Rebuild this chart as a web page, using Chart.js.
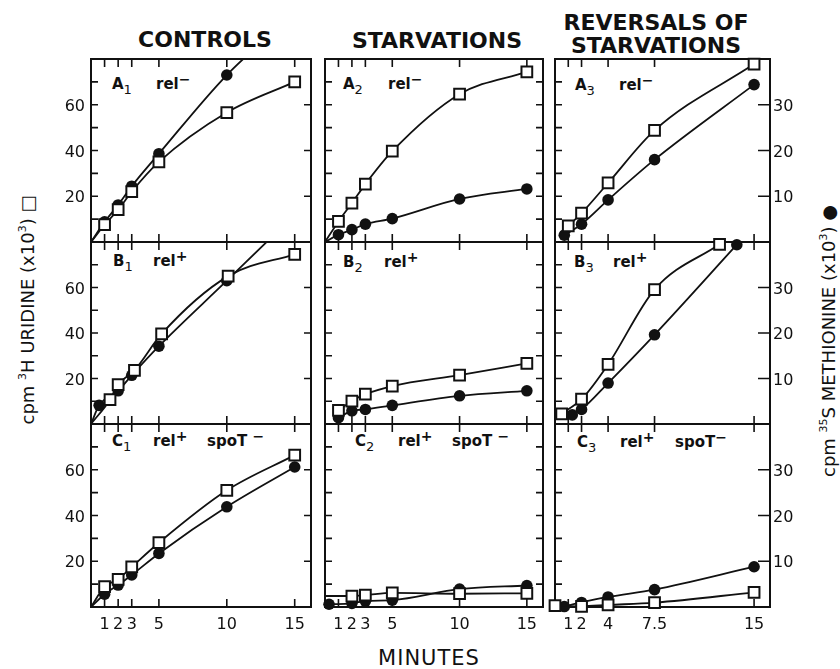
<!DOCTYPE html>
<html>
<head>
<meta charset="utf-8">
<script src="https://cdn.jsdelivr.net/npm/chart.js@4.4.1/dist/chart.umd.min.js"></script>
<style>
  body { margin: 0; background: #fff; }
  #fig { position: relative; width: 840px; height: 669px; overflow: hidden; font-family: "DejaVu Sans", sans-serif; color: #111; }
  .panel { position: absolute; }
  .ctitle { position: absolute; font-weight: bold; font-size: 22px; line-height: 22px; text-align: center; white-space: nowrap; }
  .plab { position: absolute; font-weight: bold; font-size: 15px; line-height: 15px; white-space: nowrap; }
  .plab sub { font-size: 13px; font-weight: normal; vertical-align: -5px; line-height: 0; }
  .plab sup { font-size: 14px; vertical-align: 5px; line-height: 0; }
  .ytitle { position: absolute; font-size: 18px; line-height: 18px; white-space: nowrap; transform: translate(-50%, -50%) rotate(-90deg); }
  .ytitle sup { font-size: 11px; vertical-align: 8px; line-height: 0; }
  #minutes { position: absolute; left: 329px; width: 200px; top: 648px; font-size: 21px; line-height: 21px; text-align: center; letter-spacing: 1px; }
</style>
</head>
<body>
<div id="fig">
  <div class="ctitle" style="left:105px;width:200px;top:29px">CONTROLS</div>
  <div class="ctitle" style="left:337px;width:200px;top:30px">STARVATIONS</div>
  <div class="ctitle" style="left:556px;width:200px;top:12px">REVERSALS OF</div>
  <div class="ctitle" style="left:556px;width:200px;top:35px">STARVATIONS</div>

  <div class="ytitle" style="left:28px;top:310px">cpm <sup>3</sup>H URIDINE (x10<sup>3</sup>) □</div>
  <div class="ytitle" style="left:829px;top:341px">cpm <sup>35</sup>S METHIONINE (x10<sup>3</sup>) ●</div>
  <div id="minutes">MINUTES</div>

  <div class="plab" style="left:112px;top:77px">A<sub>1</sub></div>
  <div class="plab" style="left:156px;top:77px">rel<sup>−</sup></div>
  <div class="plab" style="left:343px;top:77px">A<sub>2</sub></div>
  <div class="plab" style="left:388px;top:77px">rel<sup>−</sup></div>
  <div class="plab" style="left:575px;top:78px">A<sub>3</sub></div>
  <div class="plab" style="left:619px;top:78px">rel<sup>−</sup></div>

  <div class="plab" style="left:113px;top:254px">B<sub>1</sub></div>
  <div class="plab" style="left:153px;top:254px">rel<sup>+</sup></div>
  <div class="plab" style="left:343px;top:255px">B<sub>2</sub></div>
  <div class="plab" style="left:384px;top:255px">rel<sup>+</sup></div>
  <div class="plab" style="left:574px;top:255px">B<sub>3</sub></div>
  <div class="plab" style="left:613px;top:255px">rel<sup>+</sup></div>

  <div class="plab" style="left:112px;top:434px">C<sub>1</sub></div>
  <div class="plab" style="left:153px;top:434px">rel<sup>+</sup></div>
  <div class="plab" style="left:207px;top:434px">spoT <sup>−</sup></div>
  <div class="plab" style="left:355px;top:434px">C<sub>2</sub></div>
  <div class="plab" style="left:398px;top:434px">rel<sup>+</sup></div>
  <div class="plab" style="left:452px;top:434px">spoT <sup>−</sup></div>
  <div class="plab" style="left:577px;top:435px">C<sub>3</sub></div>
  <div class="plab" style="left:620px;top:435px">rel<sup>+</sup></div>
  <div class="plab" style="left:675px;top:435px">spoT<sup>−</sup></div>
</div>

<script>
// minutes and tick labels
const minutes = [0, 1, 2, 3, 5, 10, 15];
const xTicksMain = [1, 2, 3, 5, 10, 15];
const xTicksRev = [1, 2, 4, 7.5, 15];
const uridineLabels = [20, 40, 60];
const methionineLabels = [10, 20, 30];

// cpm 3H uridine (x10^3) = squares, cpm 35S methionine (x10^3) = circles
// A1 controls rel-
const a1Uridine = [0, 7.6, 14.1, 22, 35, 56.6, 70];
const a1Methionine = [0, 4.4, 8.1, 12.2, 19.3, 36.5, 50];
// A2 starvation rel-
const a2Uridine = [0, 9, 17, 25.3, 39.7, 64.6, 74.4];
const a2Methionine = [0, 1.6, 2.7, 3.9, 5.1, 9.4, 11.6];
// A3 reversal rel-
const a3UridineMin = [1, 2, 4, 7.5, 15];
const a3Uridine = [7, 12.6, 25.8, 48.8, 77.8];
const a3MethionineMin = [0.7, 2, 4, 7.5, 15];
const a3Methionine = [1.5, 3.9, 9.2, 18, 34.4];
// B1 controls rel+
const b1UridineMin = [0, 1.4, 2, 3.2, 5.2, 10.1, 15];
const b1Uridine = [0, 10.7, 17.3, 23.6, 39.6, 65, 74.6];
const b1MethionineMin = [0, 0.6, 2, 3, 5, 10, 15];
const b1Methionine = [0, 4.1, 7.3, 10.7, 17.1, 31.5, 46];
// B2 starvation rel+
const b2Min = [1, 2, 3, 5, 10, 15];
const b2Uridine = [6, 10.1, 13.1, 16.7, 21.5, 26.6];
const b2Methionine = [1.4, 2.9, 3.2, 4.1, 6.2, 7.3];
// B3 reversal rel+
const b3UridineMin = [0.5, 2, 4, 7.5, 12.4];
const b3Uridine = [4.5, 10.9, 26.2, 59.1, 79];
const b3MethionineMin = [1.3, 2, 4, 7.5, 13.7];
const b3Methionine = [2, 3.2, 9, 19.6, 39.4];
// C1 controls rel+ spoT-
const c1Uridine = [0, 8.9, 12.1, 17.5, 28.1, 51, 66.4];
const c1Methionine = [0, 2.8, 4.8, 7, 11.7, 21.9, 30.6];
// C2 starvation rel+ spoT-
const c2UridineMin = [0, 2, 3, 5, 10, 15];
const c2Uridine = [4.8, 4.8, 5.2, 6.2, 5.8, 6];
const c2MethionineMin = [0.3, 2, 3, 5, 10, 15];
const c2Methionine = [0.6, 0.8, 1.3, 1.5, 3.9, 4.7];
// C3 reversal rel+ spoT-
const c3UridineMin = [0, 2, 4, 7.5, 15];
const c3Uridine = [0.6, 0.3, 0.9, 1.9, 6.4];
const c3MethionineMin = [0.7, 2, 4, 7.5, 15];
const c3Methionine = [0.1, 1, 2.2, 3.8, 8.8];

const cols = [{ l: 91, r: 311 }, { l: 325, r: 543 }, { l: 555, r: 770 }];
const rows = [{ t: 59, b: 242 }, { t: 242, b: 424 }, { t: 424, b: 607 }];
const pad = { left: 40, right: 45, top: 14, bottom: 30 };

const pts = (xs, ys) => xs.map((x, i) => ({ x: x, y: ys[i] }));

const panels = [
  { col: 0, row: 0, u: pts(minutes, a1Uridine), m: pts(minutes, a1Methionine), mTop: 0 },
  { col: 1, row: 0, u: pts(minutes, a2Uridine), m: pts(minutes, a2Methionine) },
  { col: 2, row: 0, u: pts(a3UridineMin, a3Uridine), m: pts(a3MethionineMin, a3Methionine) },
  { col: 0, row: 1, u: pts(b1UridineMin, b1Uridine), m: pts(b1MethionineMin, b1Methionine), mTop: 0 },
  { col: 1, row: 1, u: pts(b2Min, b2Uridine), m: pts(b2Min, b2Methionine) },
  { col: 2, row: 1, u: pts(b3UridineMin, b3Uridine), m: pts(b3MethionineMin, b3Methionine) },
  { col: 0, row: 2, u: pts(minutes, c1Uridine), m: pts(minutes, c1Methionine) },
  { col: 1, row: 2, u: pts(c2UridineMin, c2Uridine), m: pts(c2MethionineMin, c2Methionine) },
  { col: 2, row: 2, u: pts(c3UridineMin, c3Uridine), m: pts(c3MethionineMin, c3Methionine), showStart: true }
];

const framePlugin = {
  id: 'frame',
  beforeDatasetsDraw(chart, args, o) {
    const { ctx, chartArea: a, scales } = chart;
    ctx.save();
    ctx.strokeStyle = '#111';
    ctx.lineWidth = 2;
    ctx.strokeRect(a.left, a.top, a.right - a.left, a.bottom - a.top);
    ctx.lineWidth = 1.6;
    ctx.beginPath();
    o.xTicks.forEach(v => {
      const px = scales.x.getPixelForValue(v);
      ctx.moveTo(px, a.bottom); ctx.lineTo(px, a.bottom - 8);
      ctx.moveTo(px, a.top); ctx.lineTo(px, a.top + 8);
    });
    for (let v = 10; v < 80; v += 10) {
      const py = scales.y.getPixelForValue(v);
      ctx.moveTo(a.left, py); ctx.lineTo(a.left + 7, py);
    }
    for (let v = o.rightStep; v < 40; v += o.rightStep) {
      const py = scales.y1.getPixelForValue(v);
      ctx.moveTo(a.right, py); ctx.lineTo(a.right - o.rightLen, py);
    }
    ctx.stroke();

    ctx.fillStyle = '#111';
    ctx.font = '16px "DejaVu Sans"';
    ctx.textBaseline = 'alphabetic';
    if (o.leftLabels) {
      ctx.textAlign = 'right';
      uridineLabels.forEach(v => ctx.fillText(String(v), a.left - 6, scales.y.getPixelForValue(v) + 6));
    }
    if (o.rightLabels) {
      ctx.textAlign = 'left';
      methionineLabels.forEach(v => ctx.fillText(String(v), a.right + 3, scales.y1.getPixelForValue(v) + 6));
    }
    if (o.bottomLabels) {
      ctx.textAlign = 'center';
      o.xTicks.forEach(v => ctx.fillText(String(v), scales.x.getPixelForValue(v), a.bottom + 22));
    }
    ctx.restore();
  }
};

const fig = document.getElementById('fig');

panels.forEach(p => {
  const c = cols[p.col], r = rows[p.row];
  const w = c.r - c.l + pad.left + pad.right;
  const h = r.b - r.t + pad.top + pad.bottom;
  const div = document.createElement('div');
  div.className = 'panel';
  div.style.left = (c.l - pad.left) + 'px';
  div.style.top = (r.t - pad.top) + 'px';
  const canvas = document.createElement('canvas');
  canvas.width = w;
  canvas.height = h;
  div.appendChild(canvas);
  fig.appendChild(div);

  const hideStart = ctx => (ctx.raw && ctx.raw.x === 0 && !p.showStart) ? 0 : null;

  new Chart(canvas, {
    type: 'line',
    data: {
      datasets: [{
        data: p.u,
        yAxisID: 'y',
        borderColor: '#111',
        borderWidth: 1.8,
        pointStyle: 'rect',
        pointRadius: ctx => hideStart(ctx) ?? 7.6,
        pointBackgroundColor: '#fff',
        pointBorderColor: '#111',
        pointBorderWidth: 2,
        cubicInterpolationMode: 'monotone',
        clip: { left: 12, right: 12, top: 10, bottom: 12 }
      }, {
        data: p.m,
        yAxisID: 'y1',
        borderColor: '#111',
        borderWidth: 1.8,
        pointStyle: 'circle',
        pointRadius: ctx => hideStart(ctx) ?? 5.8,
        pointBackgroundColor: '#111',
        pointBorderColor: '#111',
        pointBorderWidth: 0,
        cubicInterpolationMode: 'monotone',
        clip: { left: 12, right: 12, top: p.mTop ?? 10, bottom: 12 }
      }]
    },
    options: {
      responsive: false,
      animation: false,
      events: [],
      layout: { padding: pad },
      scales: {
        x: { type: 'linear', min: 0, max: 16.2, display: false },
        y: { min: 0, max: 80, display: false },
        y1: { min: 0, max: 40, display: false }
      },
      plugins: {
        legend: { display: false },
        tooltip: { enabled: false },
        frame: {
          xTicks: p.col === 2 ? xTicksRev : xTicksMain,
          rightStep: p.col === 1 ? 5 : 10,
          rightLen: p.col === 2 ? 12 : 7,
          leftLabels: p.col === 0,
          rightLabels: p.col === 2,
          bottomLabels: p.row === 2
        }
      }
    },
    plugins: [framePlugin]
  });
});
</script>
</body>
</html>
